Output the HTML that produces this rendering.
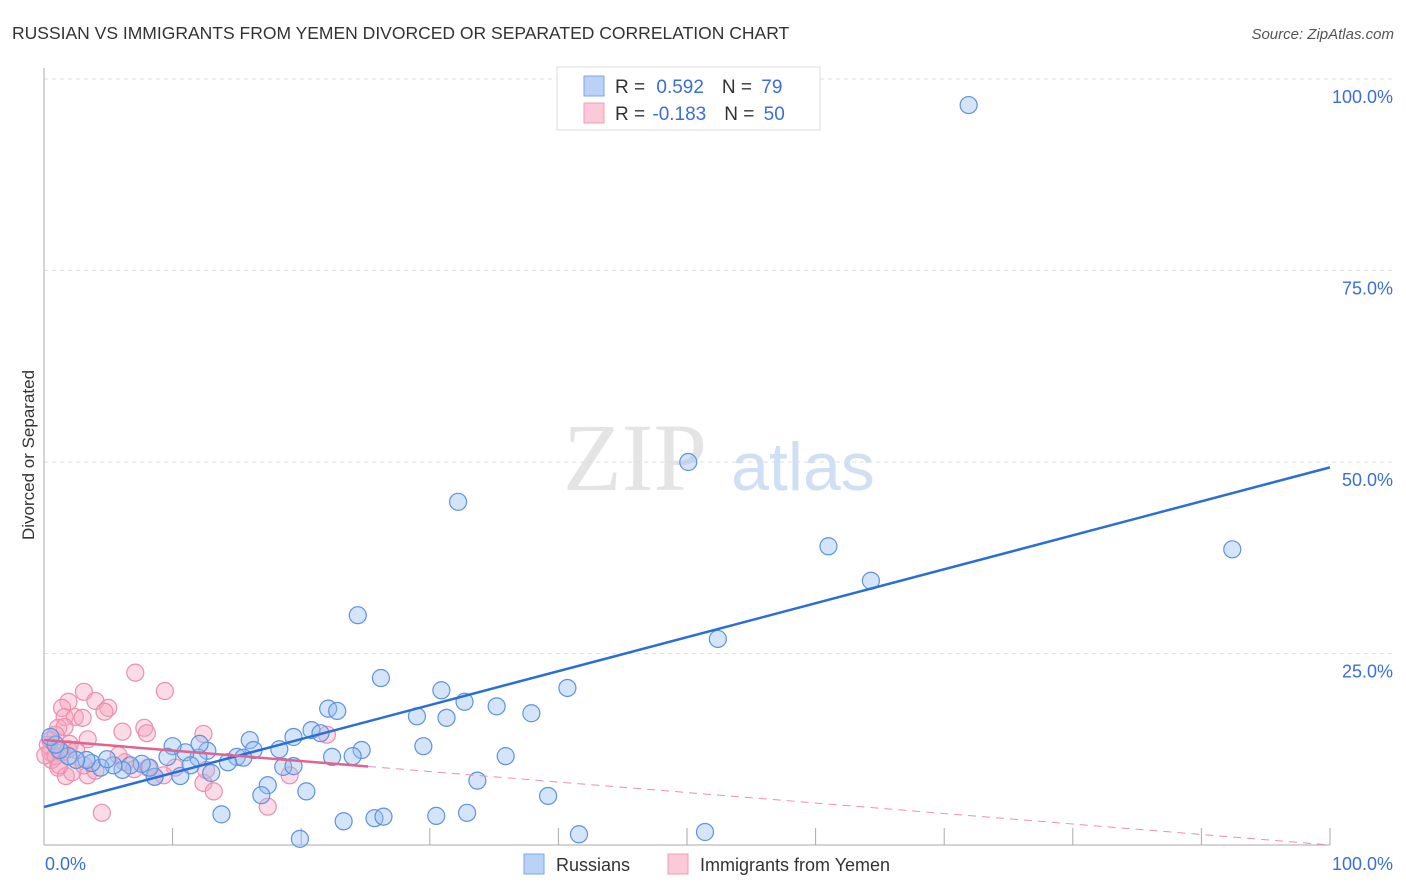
<!DOCTYPE html>
<html><head><meta charset="utf-8"><style>
body{margin:0;background:#fff;font-family:"Liberation Sans",sans-serif;}
svg{display:block}
</style></head><body>
<svg id="chart" width="1406" height="892">
<text x="12" y="39" font-size="17.5" fill="#333">RUSSIAN VS IMMIGRANTS FROM YEMEN DIVORCED OR SEPARATED CORRELATION CHART</text>
<text x="1394" y="39" font-size="15" fill="#555" font-style="italic" text-anchor="end">Source: ZipAtlas.com</text>
<text x="635" y="490" font-size="96" fill="#e4e4e4" font-family="Liberation Serif,serif" text-anchor="middle">ZIP</text>
<text x="803" y="490" font-size="68" fill="#cfe0f5" text-anchor="middle">atlas</text>
<text transform="translate(34,455) rotate(-90)" font-size="17" fill="#333" text-anchor="middle">Divorced or Separated</text>
<g id="grid"></g><g id="pts"></g><g id="lines"></g>
<g>
<rect x="557" y="67" width="263" height="63" fill="#fff" stroke="#ddd"/>
<rect x="584" y="76" width="20" height="20" fill="#b9d2f5" stroke="#7aa6e6"/>
<rect x="584" y="103" width="20" height="20" fill="#fbc9d7" stroke="#ee9fb7"/>
<text x="615" y="93" font-size="19" fill="#333">R = <tspan fill="#3a6fd8" dx="6">0.592</tspan><tspan dx="18" fill="#333">N = </tspan><tspan fill="#3a6fd8" dx="4">79</tspan></text>
<text x="615" y="120" font-size="19" fill="#333">R = <tspan fill="#3a6fd8" dx="2">-0.183</tspan><tspan dx="18" fill="#333">N = </tspan><tspan fill="#3a6fd8" dx="4">50</tspan></text>
</g>
<g>
<rect x="524" y="854" width="20" height="20" fill="#b9d2f5" stroke="#7aa6e6"/>
<text x="556" y="871" font-size="18" fill="#333">Russians</text>
<rect x="668" y="854" width="20" height="20" fill="#fbc9d7" stroke="#ee9fb7"/>
<text x="700" y="871" font-size="18" fill="#333">Immigrants from Yemen</text>
</g>
</svg>
<script>
const yTicks=[25,50,75,100];
const yTickLabels=["25.0%","50.0%","75.0%","100.0%"];
const xTicks=[0,10,20,30,40,50,60,70,80,90,100];
const blueX=[71.9,50.1,32.2,61.0,92.4,64.3,52.4,24.4,26.2,40.7,30.9,32.7,35.2,37.9,29.0,31.3,22.1,22.8,20.8,21.5,19.4,29.5,35.9,24.7,24.0,22.4,33.7,39.2,20.4,17.4,16.9,13.8,19.9,23.3,25.7,26.4,30.5,32.9,41.6,51.4,16.0,16.3,18.3,18.6,19.4,15.0,15.5,14.3,13.0,12.7,12.0,11.0,10.0,12.1,11.4,10.6,9.6,8.6,8.2,7.6,6.7,6.1,5.4,4.4,3.7,3.3,2.5,1.9,1.2,0.9,0.5,4.9];
const blueY=[96.6,50.0,44.8,39.0,38.6,34.5,26.9,30.0,21.8,20.5,20.2,18.7,18.1,17.2,16.8,16.6,17.8,17.5,15.0,14.6,14.1,12.9,11.6,12.4,11.6,11.5,8.4,6.4,7.0,7.8,6.5,4.0,0.8,3.1,3.5,3.7,3.8,4.2,1.4,1.7,13.7,12.4,12.5,10.2,10.3,11.5,11.4,10.8,9.4,12.3,11.4,12.1,12.9,13.2,10.4,9.0,11.5,8.9,10.1,10.6,10.4,9.8,10.4,10.1,10.7,11.1,11.1,11.6,12.4,13.1,14.1,11.2];
const pinkX=[7.1,9.4,3.1,1.9,4.0,5.0,4.7,1.4,1.6,2.4,3.0,6.1,7.8,8.0,12.4,22.0,1.1,1.6,3.4,2.0,0.9,0.3,0.5,0.6,1.1,1.7,3.4,6.3,10.2,12.4,13.2,12.6,9.3,19.1,17.4,4.5,2.2,0.1,0.9,1.4,1.9,1.2,5.8,3.1,7.0,4.0,0.5,2.5,8.1,8.6];
const pinkY=[22.5,20.1,20.0,18.7,18.8,17.9,17.4,17.9,16.7,16.7,16.6,14.8,15.3,14.6,14.5,14.4,15.3,15.4,13.8,13.2,14.4,13.1,12.1,11.1,10.1,9.0,9.1,10.8,10.1,8.1,7.0,9.8,9.1,9.1,5.0,4.2,9.5,11.7,11.6,12.1,12.5,10.4,11.7,10.4,9.9,9.7,13.7,12.4,10.1,8.9];
const blueTrend=[4.96,49.3];
const pinkTrend=[13.7,0.0];
const pinkSolidEnd=25.2;
const NS="http://www.w3.org/2000/svg";
const X=v=>44+v*12.86, Y=v=>845-v*7.66;
function mk(t,a,p){const e=document.createElementNS(NS,t);for(const k in a)e.setAttribute(k,a[k]);p.appendChild(e);return e;}
const grid=document.getElementById('grid');
yTicks.forEach((t,i)=>{
 const l=mk('line',{x1:44,x2:1394,y1:Y(t),y2:Y(t),stroke:'#ddd','stroke-dasharray':'4,4'},grid);
 
 
 const tx=mk('text',{x:1393,y:Y(t)+24,'font-size':18,fill:'#3a6fd8','text-anchor':'end'},grid);
 tx.textContent=yTickLabels[i];
 
 
});
const ax=mk('line',{x1:44,x2:1330,y1:845,y2:845,stroke:'#aaa'},grid);


const ay=mk('line',{x1:44,x2:44,y1:68,y2:845,stroke:'#aaa'},grid);


xTicks.forEach(t=>{const l=mk('line',{x1:X(t),x2:X(t),y1:828,y2:845,stroke:'#aaa'},grid);
 
 });
const xl0=mk('text',{x:45,y:870,'font-size':18,fill:'#3a6fd8'},grid);xl0.textContent='0.0%';


const xl1=mk('text',{x:1393,y:870,'font-size':18,fill:'#3a6fd8','text-anchor':'end'},grid);xl1.textContent='100.0%';


const pts=document.getElementById('pts');
pinkX.forEach((x,i)=>{const c=mk('circle',{cx:X(x),cy:Y(pinkY[i]),r:8.5,fill:'rgba(246,165,190,0.4)',stroke:'#ec8fae','stroke-width':1.2},pts);
 
 });
blueX.forEach((x,i)=>{const c=mk('circle',{cx:X(x),cy:Y(blueY[i]),r:8.5,fill:'rgba(150,190,240,0.4)',stroke:'#5d92e2','stroke-width':1.2},pts);
 
 });
const lines=document.getElementById('lines');
const bl=mk('line',{x1:X(0),y1:Y(blueTrend[0]),x2:X(100),y2:Y(blueTrend[1]),stroke:'#2a6fd6','stroke-width':2.5},lines);


const py=x=>pinkTrend[0]+(pinkTrend[1]-pinkTrend[0])*x/100;
const pl=mk('line',{x1:X(0),y1:Y(py(0)),x2:X(pinkSolidEnd),y2:Y(py(pinkSolidEnd)),stroke:'#e4628d','stroke-width':2.5},lines);


const pd=mk('line',{x1:X(pinkSolidEnd),y1:Y(py(pinkSolidEnd)),x2:X(100),y2:Y(py(100)),stroke:'#eb8fae','stroke-width':1,'stroke-dasharray':'8,6'},lines);


</script>
</body></html>
